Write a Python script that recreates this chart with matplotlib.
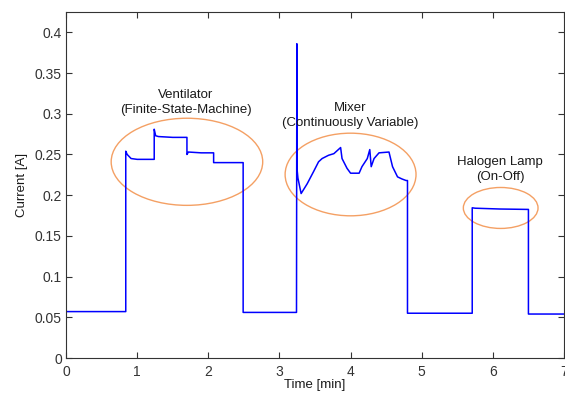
import matplotlib
matplotlib.use("Agg")
import matplotlib.pyplot as plt
from matplotlib.patches import Ellipse

plt.rcParams['font.family'] = ['Liberation Sans', 'DejaVu Sans']

# Measured current trace (time in min, current in A)
time_min = [0.00, 0.84, 0.84, 0.86, 0.915, 1.00, 1.24, 1.24, 1.26, 1.30, 1.50, 1.70,
            1.70, 1.72, 1.90, 2.075, 2.075, 2.30, 2.49, 2.49, 2.90, 3.24,
            3.245, 3.25, 3.26, 3.305, 3.39, 3.48, 3.55, 3.60, 3.69, 3.765, 3.86,
            3.88, 3.95, 4.00, 4.12, 4.16, 4.235, 4.27, 4.29, 4.33, 4.40, 4.54,
            4.59, 4.66, 4.72, 4.78, 4.80, 4.80, 5.20, 5.71,
            5.71, 5.75, 6.10, 6.50, 6.50, 7.00]
current_a = [0.057, 0.057, 0.254, 0.250, 0.245, 0.244, 0.244, 0.281, 0.273, 0.272, 0.271, 0.271,
             0.250, 0.253, 0.252, 0.252, 0.240, 0.240, 0.240, 0.056, 0.056, 0.056,
             0.386, 0.230, 0.221, 0.202, 0.214, 0.229, 0.241, 0.245, 0.249, 0.251, 0.2585,
             0.245, 0.233, 0.227, 0.227, 0.235, 0.245, 0.256, 0.235, 0.245, 0.252, 0.253,
             0.235, 0.2225, 0.220, 0.218, 0.218, 0.055, 0.055, 0.055,
             0.1845, 0.184, 0.183, 0.1825, 0.054, 0.054]

# Annotation ellipses: (x centre, y centre, width, height)
ellipse_x = [1.70, 4.00, 6.11]
ellipse_y = [0.241, 0.2254, 0.1843]
ellipse_w = [2.13, 1.84, 1.05]
ellipse_h = [0.107, 0.1015, 0.0503]

labels = ["Ventilator\n(Finite-State-Machine)",
          "Mixer\n(Continuously Variable)",
          "Halogen Lamp\n(On-Off)"]
label_x = [1.68, 3.99, 6.10]
label_y = [0.314, 0.298, 0.232]

fig = plt.figure(figsize=(5.65, 3.94), dpi=100)
ax = fig.add_axes([66/565, 36/394, 498/565, 346/394])

ax.plot(time_min, current_a, color='#0000FF', lw=1.1)

for xc, yc, w, h in zip(ellipse_x, ellipse_y, ellipse_w, ellipse_h):
    ax.add_patch(Ellipse((xc, yc), w, h, fill=False, edgecolor='#F4A064', lw=1.0))

for t, x, y in zip(labels, label_x, label_y):
    ax.text(x, y, t, ha='center', va='center', fontsize=9.5, color='#1a1a1a', linespacing=1.35)

ax.set_xlim(0, 7)
ax.set_ylim(0, 0.425)
ax.set_xticks(range(0, 8))
ax.set_yticks([0, 0.05, 0.1, 0.15, 0.2, 0.25, 0.3, 0.35, 0.4])
ax.set_yticklabels(['0', '0.05', '0.1', '0.15', '0.2', '0.25', '0.3', '0.35', '0.4'])
ax.tick_params(direction='in', top=True, right=True, length=4, width=0.8,
               labelsize=10, colors='#333333', labelcolor='#333333', pad=3)
ax.tick_params(axis='x', pad=5)
for s in ax.spines.values():
    s.set_color('#333333')
    s.set_linewidth(0.8)
ax.set_xlabel('Time [min]', fontsize=9.5, color='#1a1a1a', labelpad=0)
ax.set_ylabel('Current [A]', fontsize=9.5, color='#1a1a1a', labelpad=5)

fig.savefig('out.png', dpi=100)
